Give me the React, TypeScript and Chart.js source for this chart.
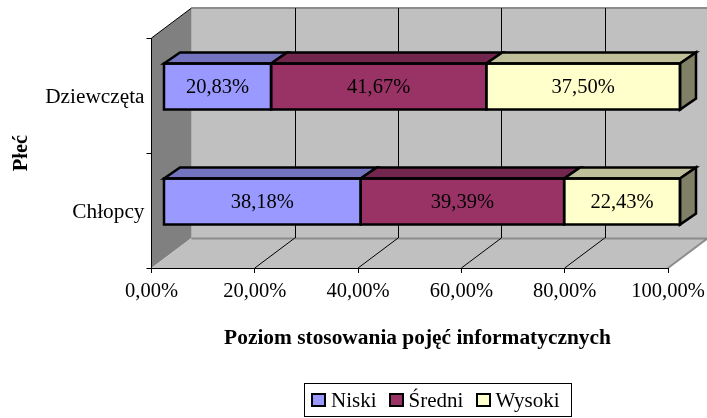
import React, { useEffect, useRef } from "react";
import { Chart, registerables } from "chart.js";

Chart.register(...registerables);

const categories = ["Dziewczęta", "Chłopcy"];
const niski = [20.83, 38.18];
const sredni = [41.67, 39.39];
const wysoki = [37.5, 22.43];
const seriesNames = ["Niski", "Średni", "Wysoki"];
const fronts = ["#9999FF", "#993366", "#FFFFCC"];
const tops = ["#7373BF", "#73264D", "#BFBF99"];
const sides = ["#737399", "#5C1F3D", "#808066"];
const xTitle = "Poziom stosowania pojęć informatycznych";
const yTitle = "Płeć";

const FONT = '"Liberation Serif", "Times New Roman", serif';
const DX = 40, DY = -30;
const BX = 12, BY = -9;
const BDX = 16, BDY = -11;
const pct = (v: number) => v.toFixed(2).replace(".", ",") + "%";

const scene3d = {
  id: "scene3d",
  beforeDraw(chart: any) {
    const { ctx, chartArea: a, scales } = chart;
    const x = scales.x;
    ctx.save();
    ctx.fillStyle = "#C0C0C0";
    ctx.fillRect(a.left + DX, a.top + DY, a.right - a.left, a.bottom - a.top);
    ctx.fillStyle = "#808080";
    ctx.beginPath();
    ctx.moveTo(a.left, a.top);
    ctx.lineTo(a.left + DX, a.top + DY);
    ctx.lineTo(a.left + DX, a.bottom + DY);
    ctx.lineTo(a.left, a.bottom);
    ctx.closePath();
    ctx.fill();
    ctx.fillStyle = "#C0C0C0";
    ctx.beginPath();
    ctx.moveTo(a.left, a.bottom);
    ctx.lineTo(a.left + DX, a.bottom + DY);
    ctx.lineTo(a.right + DX, a.bottom + DY);
    ctx.lineTo(a.right, a.bottom);
    ctx.closePath();
    ctx.fill();
    ctx.strokeStyle = "#8C8C8C";
    ctx.lineWidth = 2;
    ctx.beginPath();
    ctx.moveTo(a.left + DX, a.bottom + DY + 0.5);
    ctx.lineTo(a.right + DX, a.bottom + DY + 0.5);
    ctx.moveTo(a.right, a.bottom);
    ctx.lineTo(a.right + DX, a.bottom + DY);
    ctx.moveTo(a.left + DX, a.top + DY);
    ctx.lineTo(a.right + DX, a.top + DY);
    ctx.stroke();
    ctx.strokeStyle = "#000";
    ctx.lineWidth = 1;
    ctx.beginPath();
    for (const t of x.ticks) {
      const px = x.getPixelForValue(t.value);
      if (t.value > 0) {
        ctx.moveTo(Math.round(px + DX) + 0.5, a.top + DY);
        ctx.lineTo(Math.round(px + DX) + 0.5, a.bottom + DY);
        if (t.value < 100) {
          ctx.moveTo(px, a.bottom);
          ctx.lineTo(px + DX, a.bottom + DY);
        }
      }
    }
    ctx.moveTo(a.left, a.top);
    ctx.lineTo(a.left + DX, a.top + DY);
    ctx.stroke();
    ctx.restore();
  },
  beforeDatasetsDraw(chart: any) {
    chart.ctx.save();
    chart.ctx.translate(BX, BY);
  },
  afterDatasetsDraw(chart: any) {
    const { ctx } = chart;
    const n = chart.data.datasets.length;
    ctx.lineWidth = 2.5;
    ctx.strokeStyle = "#000";
    ctx.lineJoin = "miter";
    for (let i = 0; i < n; i++) {
      const meta = chart.getDatasetMeta(i);
      meta.data.forEach((bar: any) => {
        const { x, y, base, height } = bar.getProps(["x", "y", "base", "height"], true);
        const t = y - height / 2, b = y + height / 2;
        ctx.fillStyle = tops[i];
        ctx.beginPath();
        ctx.moveTo(base, t);
        ctx.lineTo(base + BDX, t + BDY);
        ctx.lineTo(x + BDX, t + BDY);
        ctx.lineTo(x, t);
        ctx.closePath();
        ctx.fill();
        ctx.stroke();
        if (i === n - 1) {
          ctx.fillStyle = sides[i];
          ctx.beginPath();
          ctx.moveTo(x, t);
          ctx.lineTo(x + BDX, t + BDY);
          ctx.lineTo(x + BDX, b + BDY);
          ctx.lineTo(x, b);
          ctx.closePath();
          ctx.fill();
          ctx.stroke();
        }
        ctx.strokeRect(base, t, x - base, b - t);
      });
    }
    ctx.fillStyle = "#000";
    ctx.font = `20.5px ${FONT}`;
    ctx.textAlign = "center";
    ctx.textBaseline = "middle";
    for (let i = 0; i < n; i++) {
      const ds = chart.data.datasets[i];
      chart.getDatasetMeta(i).data.forEach((bar: any, j: number) => {
        const { x, y, base } = bar.getProps(["x", "y", "base"], true);
        ctx.fillText(pct(ds.data[j]), (x + base) / 2, y + 1);
      });
    }
    ctx.restore();
  },
  afterDraw(chart: any) {
    const { ctx } = chart;
    ctx.save();
    ctx.fillStyle = "#000";
    ctx.font = `bold 21.4px ${FONT}`;
    ctx.textAlign = "center";
    ctx.textBaseline = "middle";
    ctx.fillText(xTitle, 417.5, 338);
    ctx.fillStyle = "#fff";
    ctx.fillRect(304.5, 383.5, 267, 33);
    ctx.strokeStyle = "#000";
    ctx.lineWidth = 1;
    ctx.strokeRect(304.5, 383.5, 267, 33);
    const swatches = [312, 390, 477];
    const labels = [331, 408.5, 495.5];
    ctx.font = `21px ${FONT}`;
    ctx.textAlign = "left";
    ctx.textBaseline = "alphabetic";
    seriesNames.forEach((name, i) => {
      ctx.fillStyle = fronts[i];
      ctx.fillRect(swatches[i], 394, 13, 12);
      ctx.lineWidth = 2;
      ctx.strokeRect(swatches[i], 394, 13, 12);
      ctx.fillStyle = "#000";
      ctx.fillText(name, labels[i], 407);
    });
    ctx.restore();
  },
};

export default function App() {
  const ref = useRef<HTMLCanvasElement>(null);
  useEffect(() => {
    const chart = new Chart(ref.current as HTMLCanvasElement, {
      type: "bar",
      plugins: [scene3d],
      data: {
        labels: categories,
        datasets: [niski, sredni, wysoki].map((data, i) => ({
          label: seriesNames[i],
          data,
          backgroundColor: fronts[i],
          borderWidth: 0,
          barPercentage: 0.4,
          categoryPercentage: 1,
        })),
      },
      options: {
        indexAxis: "y",
        responsive: false,
        animation: false,
        layout: { padding: { top: 38, right: 39, bottom: 0, left: 0 } },
        plugins: { legend: { display: false }, title: { display: false }, tooltip: { enabled: false } },
        scales: {
          x: {
            stacked: true,
            min: 0,
            max: 100,
            ticks: {
              stepSize: 20,
              autoSkip: false,
              maxRotation: 0,
              padding: 6,
              color: "#000",
              font: { family: FONT, size: 20.5 },
              callback: (v: any) => pct(Number(v)),
            },
            grid: { drawOnChartArea: false, drawTicks: true, tickLength: 5, color: "#000" },
            border: { color: "#000", width: 1 },
            afterFit(s: any) { s.height = 150; s.paddingRight = 30; s.paddingLeft = 0; },
          },
          y: {
            stacked: true,
            ticks: {
              padding: 2,
              labelOffset: 2,
              color: "#000",
              font: { family: FONT, size: 21.3 },
            },
            grid: { drawOnChartArea: false, drawTicks: true, tickLength: 5, color: "#000", offset: true },
            border: { color: "#000", width: 1 },
            title: {
              display: true,
              text: yTitle,
              color: "#000",
              font: { family: FONT, size: 20.5, weight: "bold" },
              padding: { top: 9, bottom: 0 },
            },
            afterFit(s: any) { s.width = 151.5; },
          },
        },
      },
    } as any);
    return () => chart.destroy();
  }, []);
  return (
    <div style={{ position: "fixed", left: 0, top: 0, width: 707, height: 418, background: "#fff" }}>
      <canvas ref={ref} width={707} height={418} style={{ display: "block" }} />
    </div>
  );
}
